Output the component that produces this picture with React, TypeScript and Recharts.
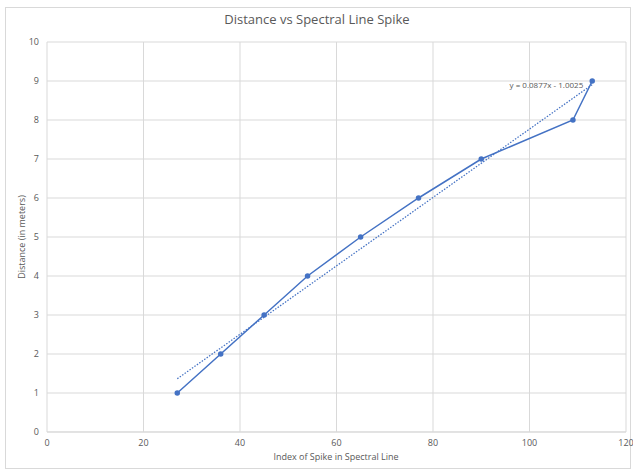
import React from "react";
import { LineChart, Line, XAxis, YAxis, CartesianGrid } from "recharts";

const xValues = [27, 36, 45, 54, 65, 77, 90, 109, 113];
const yValues = [1, 2, 3, 4, 5, 6, 7, 8, 9];
const xTicks = [0, 20, 40, 60, 80, 100, 120];
const yTicks = [0, 1, 2, 3, 4, 5, 6, 7, 8, 9, 10];
const trendSlope = 0.0877;
const trendIntercept = -1.0025;
const trendLabel = "y = 0.0877x - 1.0025";

const points = xValues.map((x, i) => ({ x, y: yValues[i] }));
const trendX = [xValues[0], xValues[xValues.length - 1]];
const trend = trendX.map((x) => ({ x, y: trendSlope * x + trendIntercept }));

const FONT = "'Open Sans', 'Liberation Sans', sans-serif";
const GRAY = "#595959";

export default function App() {
  return (
    <div style={{ position: "absolute", left: 0, top: 0, width: 633, height: 472, background: "#fff", fontFamily: FONT }}>
      <div style={{ position: "absolute", left: 5, top: 7, width: 626, height: 462, border: "1px solid #d9d9d9", boxSizing: "border-box" }} />
      <LineChart width={633} height={472} margin={{ top: 42, right: 7, bottom: 10, left: 17 }}>
        <text x={317} y={24} textAnchor="middle" fontSize={13} fill={GRAY} fontFamily={FONT}>
          Distance vs Spectral Line Spike
        </text>
        <text x={25} y={237} textAnchor="middle" fontSize={9} fill={GRAY} fontFamily={FONT} transform="rotate(-90 25 237)">
          Distance (in meters)
        </text>
        <text x={336} y={460} textAnchor="middle" fontSize={9} fill={GRAY} fontFamily={FONT}>
          Index of Spike in Spectral Line
        </text>
        <CartesianGrid stroke="#d9d9d9" vertical={true} horizontal={true} />
        <XAxis
          dataKey="x"
          type="number"
          domain={[0, 120]}
          ticks={xTicks}
          axisLine={{ stroke: "#d9d9d9" }}
          tickLine={false}
          tick={{ fontSize: 9, fill: GRAY, fontFamily: FONT }}
          height={30}
          allowDataOverflow
        />
        <YAxis
          dataKey="y"
          type="number"
          domain={[0, 10]}
          ticks={yTicks}
          axisLine={false}
          tickLine={false}
          tick={{ fontSize: 9, fill: GRAY, fontFamily: FONT }}
          width={30}
        />
        <Line
          data={trend}
          dataKey="y"
          stroke="#4472C4"
          strokeWidth={1.25}
          strokeDasharray="1.5 1.5"
          dot={false}
          isAnimationActive={false}
          label={(p: any) =>
            p.index === 1 ? (
              <text x={p.x - 9} y={p.y + 3} textAnchor="end" fontSize={8} fill={GRAY} fontFamily={FONT}>
                {trendLabel}
              </text>
            ) : null
          }
        />
        <Line
          data={points}
          dataKey="y"
          stroke="#4472C4"
          strokeWidth={1.5}
          dot={{ r: 2.75, fill: "#4472C4", stroke: "#4472C4", strokeWidth: 0 }}
          isAnimationActive={false}
        />
      </LineChart>
    </div>
  );
}
